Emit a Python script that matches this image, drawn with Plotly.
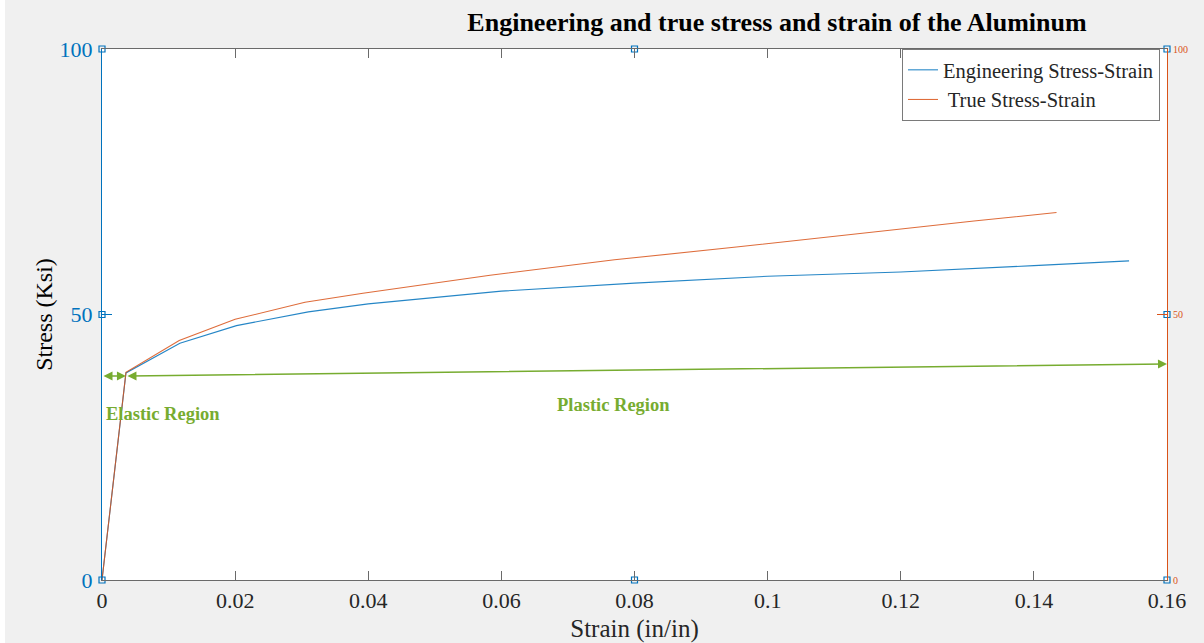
import plotly.graph_objects as go

# Engineering stress-strain readings (strain in/in, stress ksi)
eng_strain = [0, 0.0036, 0.0117, 0.0202, 0.031, 0.040, 0.060, 0.080, 0.100, 0.120, 0.140, 0.1543]
eng_stress = [0, 39.0, 44.6, 47.9, 50.5, 52.0, 54.4, 55.9, 57.2, 58.0, 59.2, 60.1]

# True stress-strain readings
true_strain = [0, 0.0036, 0.0116, 0.0200, 0.0305, 0.0392, 0.0583, 0.0770, 0.0953, 0.1133, 0.1310, 0.1434]
true_stress = [0, 39.1, 45.1, 49.1, 52.3, 54.0, 57.4, 60.3, 62.7, 65.2, 67.6, 69.2]

# Region markers (arrow end points in data units)
elastic_x = [0, 0.0036]
elastic_y = [38.4, 38.4]
plastic_x = [0.0036, 0.16]
plastic_y = [38.4, 40.7]

x_ticks = [0, 0.02, 0.04, 0.06, 0.08, 0.10, 0.12, 0.14, 0.16]
x_labels = ["0", "0.02", "0.04", "0.06", "0.08", "0.1", "0.12", "0.14", "0.16"]
y_ticks = [0, 50, 100]
y_labels = ["0", "50", "100"]

# Axes-box anchor squares
box_x = [0, 0, 0, 0.08, 0.08, 0.16, 0.16, 0.16]
box_y = [0, 50, 100, 100, 0, 100, 50, 0]

BLUE = "#0072BD"
ORANGE = "#D95319"
GREEN = "#77AC30"
DARK = "#262626"
SERIF = "Liberation Serif, Times New Roman, serif"

fig = go.Figure()

fig.add_trace(go.Scatter(
    x=eng_strain, y=eng_stress, mode="lines",
    name="Engineering Stress-Strain",
    line=dict(color=BLUE, width=1.1),
    opacity=0.85,
))
fig.add_trace(go.Scatter(
    x=true_strain, y=true_stress, mode="lines",
    name=" True Stress-Strain",
    line=dict(color=ORANGE, width=1.1),
    opacity=0.85,
))
fig.add_trace(go.Scatter(
    x=box_x, y=box_y, mode="markers", showlegend=False, cliponaxis=False,
    marker=dict(symbol="square-open", size=6, color=BLUE, line=dict(width=1.2, color=BLUE)),
    hoverinfo="skip",
))
# invisible trace to carry the right-hand axis
fig.add_trace(go.Scatter(
    x=[0], y=[0], yaxis="y2", mode="markers", showlegend=False,
    marker=dict(opacity=0), hoverinfo="skip",
))

annotations = []
for xs, ys in [(elastic_x, elastic_y), (plastic_x, plastic_y)]:
    annotations.append(dict(
        x=xs[1], y=ys[1], ax=xs[0], ay=ys[0],
        xref="x", yref="y", axref="x", ayref="y",
        showarrow=True, arrowhead=2, startarrowhead=2, arrowside="end+start",
        arrowsize=1.2, startarrowsize=1.2, arrowwidth=1.5, arrowcolor=GREEN, text="",
        standoff=0, startstandoff=0,
    ))
annotations.append(dict(
    x=0.00916, y=31.3, xref="x", yref="y", text="<b>Elastic Region</b>", showarrow=False,
    font=dict(family=SERIF, size=18.5, color=GREEN),
))
annotations.append(dict(
    x=0.0768, y=33.0, xref="x", yref="y", text="<b>Plastic Region</b>", showarrow=False,
    font=dict(family=SERIF, size=18.5, color=GREEN),
))

fig.update_layout(
    width=1204, height=643,
    margin=dict(l=102, r=37, t=49, b=63, autoexpand=False),
    paper_bgcolor="#f0f0f0",
    plot_bgcolor="white",
    font=dict(family=SERIF, color=DARK),
    title=dict(
        text="<b>Engineering and true stress and strain of the Aluminum</b>",
        x=777 / 1204, xref="container", xanchor="center",
        y=1 - 22 / 643, yref="container", yanchor="middle",
        font=dict(family=SERIF, size=26, color="black"),
        automargin=False,
    ),
    xaxis=dict(
        range=[0, 0.16], tickvals=x_ticks, ticktext=x_labels,
        showgrid=False, zeroline=False, automargin=False,
        showline=True, linecolor="#6a6a6a", linewidth=1.2, mirror="ticks",
        ticks="inside", ticklen=9, tickcolor="#6a6a6a", tickwidth=1,
        tickfont=dict(family=SERIF, size=22, color=DARK),
        title=dict(text="Strain (in/in)", font=dict(family=SERIF, size=25, color=DARK), standoff=8),
    ),
    yaxis=dict(
        range=[0, 100], tickvals=y_ticks, ticktext=y_labels,
        showgrid=False, zeroline=False, automargin=False,
        showline=True, linecolor=BLUE, linewidth=1.2,
        ticks="inside", ticklen=10, tickcolor=BLUE, tickwidth=1,
        ticklabelstandoff=4,
        tickfont=dict(family=SERIF, size=22, color=BLUE),
        title=dict(text="Stress (Ksi)", font=dict(family=SERIF, size=24, color="black"), standoff=0),
    ),
    yaxis2=dict(
        range=[0, 100], tickvals=y_ticks, ticktext=y_labels,
        overlaying="y", side="right", automargin=False,
        showgrid=False, zeroline=False,
        showline=True, linecolor=ORANGE, linewidth=1.2,
        ticks="inside", ticklen=10, tickcolor=ORANGE, tickwidth=1,
        ticklabelstandoff=3,
        tickfont=dict(family=SERIF, size=10, color=ORANGE),
    ),
    legend=dict(
        x=(902 - 102) / 1065, y=1, xanchor="left", yanchor="top",
        bgcolor="white", bordercolor="#7a7a7a", borderwidth=1,
        font=dict(family=SERIF, size=20.5, color=DARK),
        itemwidth=30, tracegroupgap=0,
    ),
    annotations=annotations,
    shapes=[
        dict(type="rect", xref="paper", yref="paper",
             x0=-0.2, x1=1.2, y0=(580 - 0) / 531, y1=(580 + 10) / 531,
             fillcolor="white", line=dict(width=0), layer="above"),
        dict(type="rect", xref="paper", yref="paper",
             x0=-0.2, x1=(0 - 102 + 5) / 1065, y0=-0.2, y1=1.2,
             fillcolor="white", line=dict(width=0), layer="above"),
    ],
)

fig.write_html("out.html")
